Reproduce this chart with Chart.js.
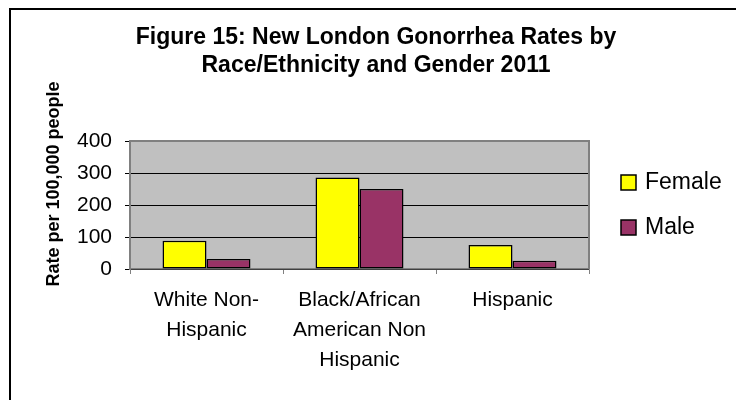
<!DOCTYPE html>
<html>
<head>
<meta charset="utf-8">
<script src="https://cdn.jsdelivr.net/npm/chart.js@4/dist/chart.umd.min.js"></script>
<style>
  html, body { margin: 0; padding: 0; background: #fff; overflow: hidden; }
  #caja { position: relative; width: 736px; height: 400px; }
  #marco { position: absolute; left: 9px; top: 8px; width: 800px; height: 500px; border-left: 2px solid #000; border-top: 2px solid #000; pointer-events: none; }
  canvas { position: absolute; left: 0; top: 0; }
</style>
</head>
<body>
<div id="caja">
  <canvas id="grafico" width="736" height="400"></canvas>
  <div id="marco"></div>
</div>
<script>
// Datos
var categorias = [['White Non-', 'Hispanic'], ['Black/African', 'American Non', 'Hispanic'], ['Hispanic']];
var mujeres = [88, 286, 75];
var hombres = [31, 250, 26];
var ticksY = [0, 100, 200, 300, 400];
var titulo = ['Figure 15: New London Gonorrhea Rates by', 'Race/Ethnicity and Gender 2011'];
var tituloY = 'Rate per 100,000 people';

var FUENTE = '"Liberation Sans", Arial, sans-serif';

// fondo gris del área de trazado, bordes superior/derecho, título del eje Y y leyenda
var extras = {
  id: 'extras',
  beforeDraw: function (chart) {
    var a = chart.chartArea, ctx = chart.ctx;
    ctx.save();
    ctx.fillStyle = '#c0c0c0';
    ctx.fillRect(a.left, a.top, a.right - a.left, a.bottom - a.top);
    ctx.restore();
  },
  afterDraw: function (chart) {
    var a = chart.chartArea, ctx = chart.ctx;
    ctx.save();
    ctx.strokeStyle = '#808080';
    ctx.lineWidth = 2;
    ctx.beginPath();
    ctx.moveTo(a.left, a.top);
    ctx.lineTo(a.right, a.top);
    ctx.lineTo(a.right, a.bottom);
    ctx.stroke();

    // título del eje Y
    ctx.fillStyle = '#000';
    ctx.font = 'bold 18px ' + FUENTE;
    ctx.textAlign = 'center';
    ctx.textBaseline = 'middle';
    ctx.save();
    ctx.translate(54, 184);
    ctx.rotate(-Math.PI / 2);
    ctx.fillText(tituloY, 0, 0);
    ctx.restore();

    // leyenda a la derecha
    var sets = chart.data.datasets;
    var medio = (a.top + a.bottom) / 2;
    var x = a.right + 32;
    ctx.font = '23px ' + FUENTE;
    ctx.textAlign = 'left';
    sets.forEach(function (ds, i) {
      var y = medio + (i - (sets.length - 1) / 2) * 45;
      ctx.fillStyle = ds.backgroundColor;
      ctx.fillRect(x, y - 7.5, 15, 15);
      ctx.strokeStyle = '#000';
      ctx.lineWidth = 1.5;
      ctx.strokeRect(x, y - 7.5, 15, 15);
      ctx.fillStyle = '#000';
      ctx.fillText(ds.label, x + 24, y);
    });
    ctx.restore();
  }
};

new Chart(document.getElementById('grafico').getContext('2d'), {
  type: 'bar',
  data: {
    labels: categorias,
    datasets: [
      { label: 'Female', data: mujeres, backgroundColor: '#ffff00', borderColor: '#000', borderWidth: 1.5, borderSkipped: false },
      { label: 'Male', data: hombres, backgroundColor: '#993366', borderColor: '#000', borderWidth: 1.5, borderSkipped: false }
    ]
  },
  options: {
    responsive: false,
    animation: false,
    devicePixelRatio: 1,
    layout: { padding: { left: 16, right: 0, top: 0, bottom: 0 } },
    datasets: { bar: { categoryPercentage: 0.575, barPercentage: 1 } },
    plugins: {
      title: {
        display: true, text: titulo, color: '#000',
        font: { family: FUENTE, size: 23, weight: 'bold', lineHeight: 27.5 / 23 },
        padding: { top: 24.3, bottom: 61.7 }
      },
      legend: { display: false },
      tooltip: { enabled: false }
    },
    scales: {
      x: {
        grid: { offset: true, drawOnChartArea: false, drawTicks: true, tickLength: 5, color: '#808080' },
        border: { color: '#808080', width: 1.5 },
        ticks: { color: '#000', font: { family: FUENTE, size: 21, lineHeight: 30 / 21 }, padding: 11.5, maxRotation: 0, autoSkip: false },
        afterFit: function (s) { s.height = 131; }
      },
      y: {
        min: ticksY[0], max: ticksY[ticksY.length - 1],
        afterBuildTicks: function (s) { s.ticks = ticksY.map(function (v) { return { value: v }; }); },
        grid: {
          tickLength: 5, tickColor: '#000',
          color: function (c) { return c.tick && c.tick.value === 400 ? '#808080' : '#000'; },
          lineWidth: 1
        },
        border: { color: '#808080', width: 2 },
        ticks: { color: '#000', font: { family: FUENTE, size: 21 }, padding: 13 },
        afterFit: function (s) { s.width = 114; }
      },
      // espacio reservado para la leyenda
      hueco: {
        type: 'linear', position: 'right', display: true,
        grid: { display: false }, border: { display: false }, ticks: { display: false },
        afterFit: function (s) { s.width = 147; }
      }
    }
  },
  plugins: [extras]
});
</script>
</body>
</html>
